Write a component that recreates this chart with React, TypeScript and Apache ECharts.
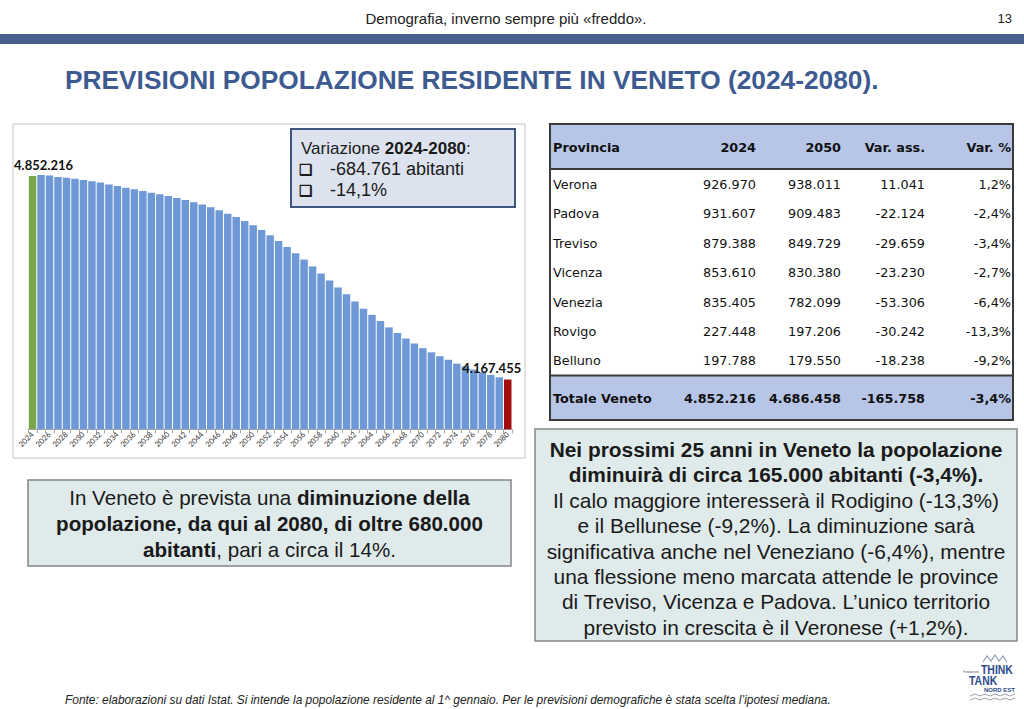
import React, { useEffect, useRef } from "react";
import * as echarts from "echarts";

const years = ["2024","2025","2026","2027","2028","2029","2030","2031","2032","2033","2034","2035","2036","2037","2038","2039","2040","2041","2042","2043","2044","2045","2046","2047","2048","2049","2050","2051","2052","2053","2054","2055","2056","2057","2058","2059","2060","2061","2062","2063","2064","2065","2066","2067","2068","2069","2070","2071","2072","2073","2074","2075","2076","2077","2078","2079","2080"];

const population = [4852216,4856000,4854000,4849000,4846000,4843000,4839000,4834500,4830000,4824000,4819000,4813000,4807600,4802000,4796000,4791000,4785000,4778000,4771600,4764000,4756000,4747000,4737000,4725500,4714000,4701000,4686458,4671000,4653000,4634000,4613000,4592000,4571000,4548000,4524000,4501000,4477000,4454000,4430000,4406000,4385000,4364000,4343000,4324000,4305500,4289000,4273000,4259000,4246000,4234000,4221000,4212000,4201000,4192000,4183000,4175000,4167455];

const tableHeader = ["Provincia", "2024", "2050", "Var. ass.", "Var. %"];
const provinces = ["Verona", "Padova", "Treviso", "Vicenza", "Venezia", "Rovigo", "Belluno"];
const pop2024 = ["926.970", "931.607", "879.388", "853.610", "835.405", "227.448", "197.788"];
const pop2050 = ["938.011", "909.483", "849.729", "830.380", "782.099", "197.206", "179.550"];
const varAss = ["11.041", "-22.124", "-29.659", "-23.230", "-53.306", "-30.242", "-18.238"];
const varPct = ["1,2%", "-2,4%", "-3,4%", "-2,7%", "-6,4%", "-13,3%", "-9,2%"];
const totalRow = ["Totale Veneto", "4.852.216", "4.686.458", "-165.758", "-3,4%"];

const AR = "'Liberation Sans', Arial, sans-serif";
const TB = "'DejaVu Sans', Verdana, sans-serif";
const LB = "Lato, 'Open Sans', sans-serif";

function fmt(n: number): string {
  const s = String(Math.round(n));
  let out = "";
  for (let i = 0; i < s.length; i++) {
    const fromEnd = s.length - i;
    out += s[i];
    if (fromEnd > 1 && (fromEnd - 1) % 3 === 0) out += ".";
  }
  return out;
}

function txt(x: number, y: number, text: string, o: any = {}): any {
  return {
    type: "text",
    x,
    y,
    scaleX: o.scaleX ?? 1,
    style: {
      text,
      fill: o.fill ?? "#1a1a1a",
      fontSize: o.fontSize ?? 14,
      fontFamily: o.fontFamily ?? AR,
      fontWeight: o.fontWeight ?? "normal",
      fontStyle: o.fontStyle ?? "normal",
      textAlign: o.align ?? "left",
      textVerticalAlign: "middle",
      lineHeight: o.lineHeight,
      rich: o.rich,
    },
    z: 10,
  };
}

function richLine(x: number, y: number, parts: [string, boolean][], size: number): any {
  const text = parts.map(([t, b]) => `{${b ? "b" : "r"}|${t}}`).join("");
  return {
    type: "text",
    x,
    y,
    style: {
      text,
      textAlign: "center",
      textVerticalAlign: "middle",
      fill: "#1a1a1a",
      fontSize: size,
      fontFamily: AR,
      rich: {
        r: { fontSize: size, fontFamily: AR, fill: "#1a1a1a", fontWeight: "normal" },
        b: { fontSize: size, fontFamily: AR, fill: "#1a1a1a", fontWeight: "bold" },
      },
    },
    z: 10,
  };
}

function buildGraphics(): any[] {
  const g: any[] = [];
  // header
  g.push(txt(506, 18, "Demografia, inverno sempre più «freddo».", { fontSize: 15, align: "center", fill: "#222", scaleX: 1 }));
  g.push(txt(1012, 18, "13", { fontSize: 13, align: "right", fill: "#222" }));
  g.push({ type: "rect", shape: { x: 0, y: 34, width: 1024, height: 10 }, style: { fill: "#47608e" }, z: 1 });
  // title
  g.push(txt(65, 80, "PREVISIONI POPOLAZIONE RESIDENTE IN VENETO (2024-2080).", { fontSize: 26.3, fontWeight: "bold", fill: "#3d5a91" }));
  // chart frame
  g.push({ type: "rect", shape: { x: 13, y: 124, width: 512, height: 334 }, style: { fill: "#ffffff", stroke: "#c4c4c4", lineWidth: 1 }, z: -1 });
  // variazione box
  g.push({ type: "rect", shape: { x: 291, y: 129, width: 224, height: 78 }, style: { fill: "#dde3ee", stroke: "#3f5680", lineWidth: 2 }, z: 5 });
  g.push({
    type: "text", x: 301, y: 148, z: 10,
    style: {
      text: "{r|Variazione }{b|2024-2080}{r|:}", textVerticalAlign: "middle", fill: "#1a1a1a", fontSize: 17, fontFamily: AR,
      rich: { r: { fontSize: 17, fontFamily: AR, fill: "#1a1a1a" }, b: { fontSize: 17, fontFamily: AR, fontWeight: "bold", fill: "#1a1a1a" } },
    },
  });
  g.push(txt(299, 169, "❑", { fontSize: 15, fontWeight: "bold", fill: "#1a1a1a" }));
  g.push(txt(330, 169, "-684.761 abitanti", { fontSize: 18 }));
  g.push(txt(299, 190, "❑", { fontSize: 15, fontWeight: "bold", fill: "#1a1a1a" }));
  g.push(txt(330, 190, "-14,1%", { fontSize: 18 }));

  // table
  const tL = 550, tR = 1013, tT = 124, hB = 169, totT = 375.5, tB = 420;
  g.push({ type: "rect", shape: { x: tL, y: tT, width: tR - tL, height: hB - tT }, style: { fill: "#b7c6e6" }, z: 2 });
  g.push({ type: "rect", shape: { x: tL, y: totT, width: tR - tL, height: tB - totT }, style: { fill: "#b7c6e6" }, z: 2 });
  g.push({ type: "rect", shape: { x: tL, y: tT, width: tR - tL, height: tB - tT }, style: { fill: "none", stroke: "#3a3a3a", lineWidth: 2 }, z: 4 });
  g.push({ type: "line", shape: { x1: tL, y1: hB, x2: tR, y2: hB }, style: { stroke: "#3a3a3a", lineWidth: 2 }, z: 4 });
  g.push({ type: "line", shape: { x1: tL, y1: totT, x2: tR, y2: totT }, style: { stroke: "#3a3a3a", lineWidth: 2 }, z: 4 });
  const colX = [553, 756, 841, 925, 1011];
  const colAlign = ["left", "right", "right", "right", "right"];
  tableHeader.forEach((h, i) => g.push(txt(colX[i], 147, h, { fontFamily: TB, fontSize: 12.8, fontWeight: "bold", align: colAlign[i], fill: "#111" })));
  const rowY = [184.3, 213.7, 243, 272.7, 302, 331.7, 360.7];
  provinces.forEach((p, r) => {
    const cells = [p, pop2024[r], pop2050[r], varAss[r], varPct[r]];
    cells.forEach((c, i) => g.push(txt(colX[i], rowY[r], c, { fontFamily: TB, fontSize: 12.8, align: colAlign[i], fill: "#111" })));
  });
  totalRow.forEach((c, i) => g.push(txt(colX[i], 398, c, { fontFamily: TB, fontSize: 12.8, fontWeight: "bold", align: colAlign[i], fill: "#111" })));

  // left text box
  g.push({ type: "rect", shape: { x: 28, y: 480, width: 483, height: 86 }, style: { fill: "#dfeaea", stroke: "#858585", lineWidth: 1.5 }, z: 2 });
  g.push(richLine(269.5, 497, [["In Veneto è prevista una ", false], ["diminuzione della", true]], 20.6));
  g.push(richLine(269.5, 523, [["popolazione, da qui al 2080, di oltre 680.000", true]], 20.6));
  g.push(richLine(269.5, 549, [["abitanti", true], [", pari a circa il 14%.", false]], 20.6));

  // right text box
  g.push({ type: "rect", shape: { x: 535, y: 429, width: 482, height: 212 }, style: { fill: "#dfeaea", stroke: "#858585", lineWidth: 1.5 }, z: 2 });
  const rx = 776;
  const rLines: [string, boolean][][] = [
    [["Nei prossimi 25 anni in Veneto la popolazione", true]],
    [["diminuirà di circa 165.000 abitanti (-3,4%).", true]],
    [["Il calo maggiore interesserà il Rodigino (-13,3%)", false]],
    [["e il Bellunese (-9,2%). La diminuzione sarà", false]],
    [["significativa anche nel Veneziano (-6,4%), mentre", false]],
    [["una flessione meno marcata attende le province", false]],
    [["di Treviso, Vicenza e Padova. L’unico territorio", false]],
    [["previsto in crescita è il Veronese (+1,2%).", false]],
  ];
  rLines.forEach((parts, i) => g.push(richLine(rx, 449.5 + i * 25.4, parts, 20.9)));

  // footnote
  g.push(txt(65, 700, "Fonte: elaborazioni su dati Istat. Si intende la popolazione residente al 1^ gennaio. Per le previsioni demografiche è stata scelta l’ipotesi mediana.", { fontSize: 11.9, fontStyle: "italic", fill: "#222" }));

  // logo
  g.push({ type: "polyline", shape: { points: [[983, 662], [987, 656], [991, 661], [995, 655], [999, 661], [1003, 656], [1007, 662]] }, style: { stroke: "#8d9bb3", lineWidth: 1.2, fill: "none" }, z: 10 });
  g.push(txt(979, 672, "Fondazione", { fontSize: 3, align: "right", fill: "#555", lineHeight: 3 }));
  g.push(txt(981, 669.5, "THINK", { fontSize: 12, fontWeight: "bold", fill: "#2f4b8c", scaleX: 0.87, lineHeight: 11 }));
  g.push(txt(969, 680.5, "TANK", { fontSize: 12, fontWeight: "bold", fill: "#2f4b8c", scaleX: 0.87, lineHeight: 11 }));
  g.push(txt(1015, 689.5, "NORD EST", { fontSize: 6, fontWeight: "bold", align: "right", fill: "#2f4b8c", lineHeight: 6 }));
  g.push({ type: "polyline", shape: { points: [[970, 696], [975, 694], [980, 696], [985, 694], [990, 696], [995, 694], [1000, 696], [1005, 694], [1010, 696], [1015, 694]] }, style: { stroke: "#9aa3ad", lineWidth: 1, fill: "none" }, z: 10 });
  g.push({ type: "polyline", shape: { points: [[970, 700], [975, 698], [980, 700], [985, 698], [990, 700], [995, 698], [1000, 700], [1005, 698], [1010, 700], [1015, 698]] }, style: { stroke: "#9aa3ad", lineWidth: 1, fill: "none" }, z: 10 });
  return g;
}

export default function App() {
  const ref = useRef<HTMLDivElement>(null);
  useEffect(() => {
    document.body.style.margin = "0";
    if (!ref.current) return;
    const chart = echarts.init(ref.current, undefined, { renderer: "svg" });
    const last = population.length - 1;
    const labelBase = { show: true, position: "top", fontFamily: LB, fontWeight: "bold", fontSize: 13, color: "#111", formatter: (p: any) => fmt(p.value) };
    const data = population.map((v, i) => {
      if (i === 0) return { value: v, itemStyle: { color: "#79a84b" }, label: { ...labelBase, offset: [11, 0] } };
      if (i === last) return { value: v, itemStyle: { color: "#a30d0d" }, label: { ...labelBase, offset: [-16, 0] } };
      return { value: v };
    });
    chart.setOption({
      animation: false,
      backgroundColor: "#ffffff",
      grid: { left: 28.3, top: 132.1, width: 483.7, height: 297.2, containLabel: false },
      xAxis: {
        type: "category",
        data: years,
        axisLine: { lineStyle: { color: "#a6a6a6" } },
        axisTick: { show: true, interval: 0, length: 4, lineStyle: { color: "#a6a6a6" } },
        axisLabel: { interval: 1, rotate: 45, fontSize: 7.6, color: "#333333", margin: 4, fontFamily: LB },
      },
      yAxis: { type: "value", min: 4000000, max: 5000000, show: false, splitLine: { show: false } },
      series: [
        {
          type: "bar",
          data,
          barCategoryGap: "12%",
          itemStyle: { color: "#6e98d6" },
          label: { show: false },
        },
      ],
      graphic: buildGraphics(),
    });
    return () => chart.dispose();
  }, []);
  return <div ref={ref} style={{ width: 1024, height: 709 }} />;
}
